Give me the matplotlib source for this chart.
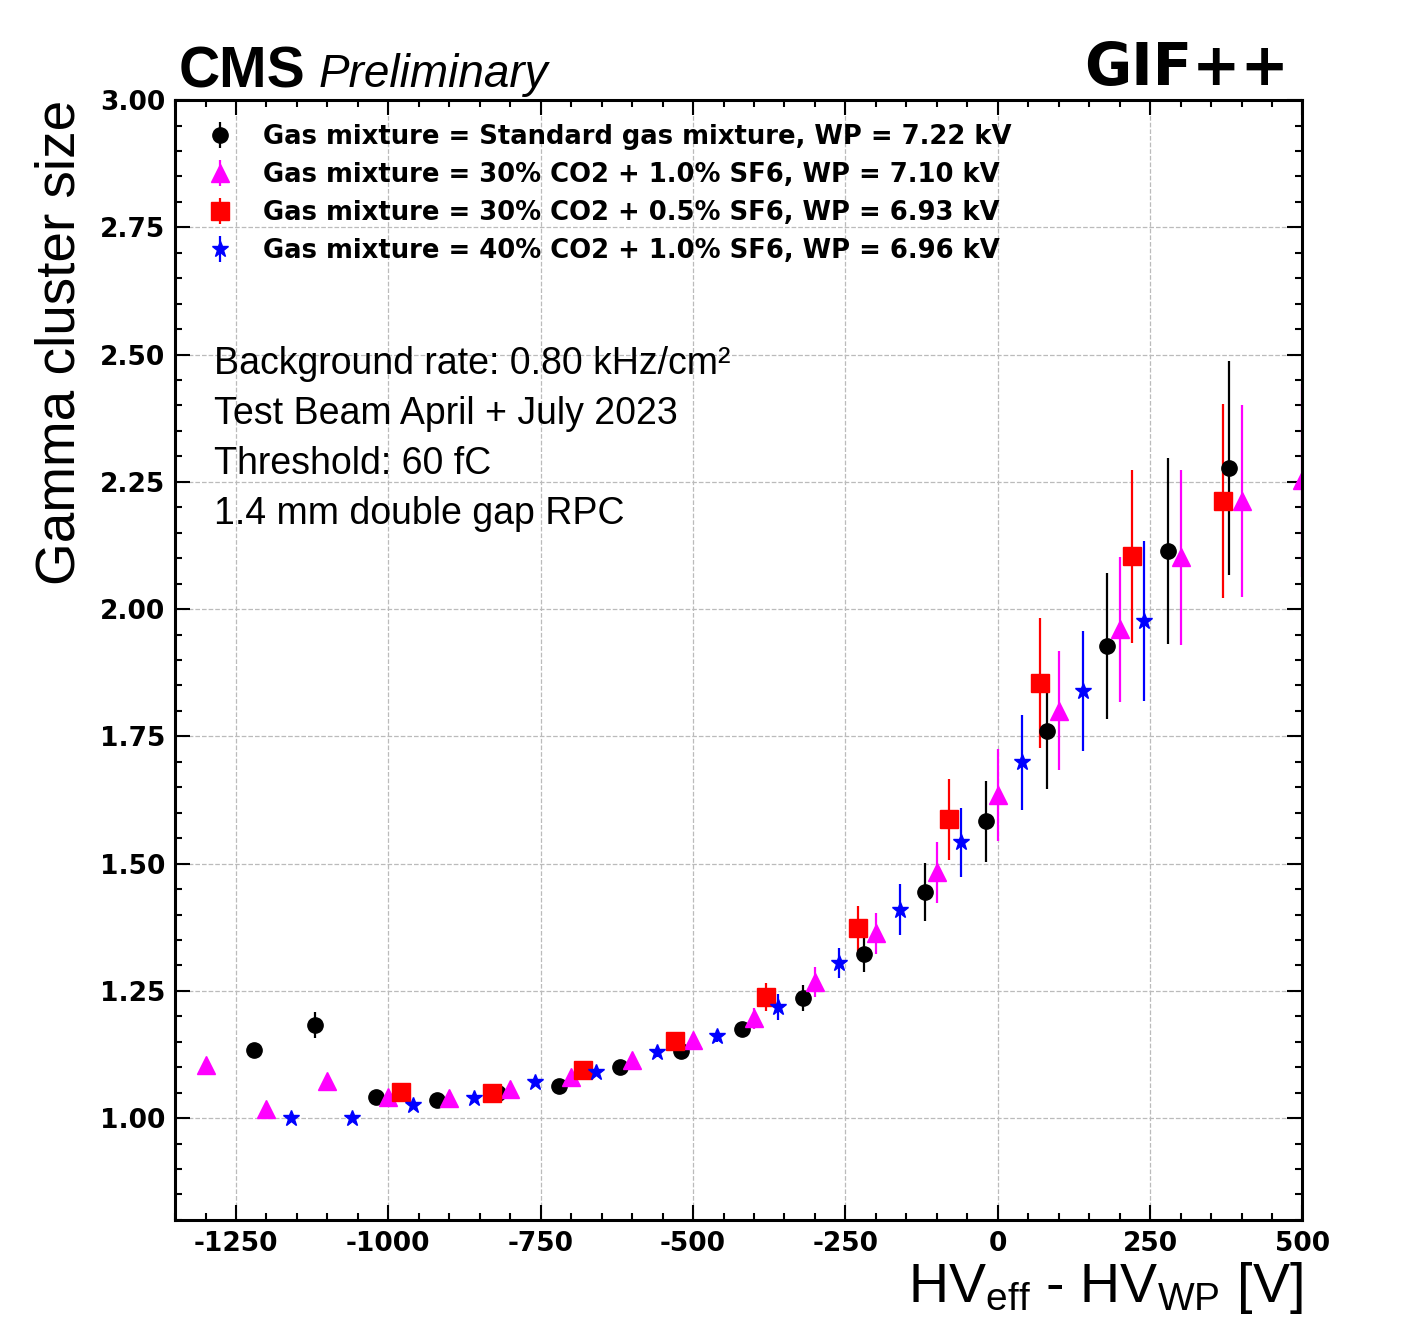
import numpy as np
import matplotlib
matplotlib.use("Agg")
import matplotlib.pyplot as plt
from matplotlib.ticker import MultipleLocator

plt.rcParams['mathtext.fontset'] = 'custom'
plt.rcParams['mathtext.rm'] = 'Liberation Sans'
plt.rcParams['mathtext.it'] = 'Liberation Sans:italic'
plt.rcParams['mathtext.bf'] = 'Liberation Sans:bold'
plt.rcParams['axes.unicode_minus'] = False

# --- data ---
# standard gas mixture, WP = 7.22 kV
std_x = [-1220, -1120, -1020, -920, -820, -720, -620, -520, -420, -320,
         -220, -120, -20, 80, 180, 280, 380]
std_y = [1.134, 1.183, 1.041, 1.035, 1.050, 1.063, 1.101, 1.131, 1.175, 1.236,
         1.322, 1.444, 1.583, 1.760, 1.928, 2.114, 2.277]
std_err = [0.010, 0.026, 0.005, 0.005, 0.005, 0.006, 0.008, 0.010, 0.012, 0.025,
           0.035, 0.057, 0.080, 0.113, 0.143, 0.183, 0.210]

# 30% CO2 + 1.0% SF6, WP = 7.10 kV
co2_30_sf6_10_x = [-1300, -1200, -1100, -1000, -900, -800, -700, -600, -500, -400,
                   -300, -200, -100, 0, 100, 200, 300, 400, 500]
co2_30_sf6_10_y = [1.104, 1.018, 1.073, 1.041, 1.040, 1.058, 1.080, 1.114, 1.153, 1.196,
                   1.267, 1.363, 1.483, 1.635, 1.800, 1.960, 2.102, 2.212, 2.253]
co2_30_sf6_10_err = [0.006, 0.005, 0.005, 0.005, 0.005, 0.006, 0.007, 0.009, 0.012, 0.020,
                     0.030, 0.040, 0.060, 0.090, 0.117, 0.143, 0.172, 0.188, 0.190]

# 30% CO2 + 0.5% SF6, WP = 6.93 kV
co2_30_sf6_05_x = [-980, -830, -680, -530, -380, -230, -80, 70, 220, 370]
co2_30_sf6_05_y = [1.051, 1.049, 1.094, 1.151, 1.238, 1.373, 1.587, 1.855, 2.104, 2.212]
co2_30_sf6_05_err = [0.006, 0.006, 0.010, 0.015, 0.027, 0.044, 0.080, 0.127, 0.170, 0.190]

# 40% CO2 + 1.0% SF6, WP = 6.96 kV
co2_40_sf6_10_x = [-1160, -1060, -960, -860, -760, -660, -560, -460, -360, -260,
                   -160, -60, 40, 140, 240]
co2_40_sf6_10_y = [1.000, 1.000, 1.026, 1.039, 1.071, 1.090, 1.130, 1.161, 1.218, 1.305,
                   1.409, 1.542, 1.699, 1.839, 1.976]
co2_40_sf6_10_err = [0.004, 0.004, 0.005, 0.005, 0.006, 0.007, 0.009, 0.012, 0.025, 0.030,
                     0.050, 0.068, 0.093, 0.118, 0.157]

labels = ['Gas mixture = Standard gas mixture, WP = 7.22 kV',
          'Gas mixture = 30% CO2 + 1.0% SF6, WP = 7.10 kV',
          'Gas mixture = 30% CO2 + 0.5% SF6, WP = 6.93 kV',
          'Gas mixture = 40% CO2 + 1.0% SF6, WP = 6.96 kV']

info_lines = ['Background rate: 0.80 kHz/cm\u00b2',
              'Test Beam April + July 2023',
              'Threshold: 60 fC',
              '1.4 mm double gap RPC']

fig = plt.figure(figsize=(14.21, 13.20), dpi=100)
ax = fig.add_axes([0.1232, 0.0758, 0.7934, 0.8484])

series = [
    (std_x, std_y, std_err, 'o', 'black', 11),
    (co2_30_sf6_10_x, co2_30_sf6_10_y, co2_30_sf6_10_err, '^', 'magenta', 12.5),
    (co2_30_sf6_05_x, co2_30_sf6_05_y, co2_30_sf6_05_err, 's', 'red', 12.5),
    (co2_40_sf6_10_x, co2_40_sf6_10_y, co2_40_sf6_10_err, '*', 'blue', 12),
]
for (x, y, e, m, c, ms), lbl in zip(series, labels):
    ax.errorbar(x, y, yerr=e, fmt=m, color=c, ms=ms, elinewidth=1.6,
                capsize=0, label=lbl)

ax.set_xlim(-1350, 500)
ax.set_ylim(0.8, 3.0)
ax.xaxis.set_major_locator(MultipleLocator(250))
ax.xaxis.set_minor_locator(MultipleLocator(50))
ax.yaxis.set_major_locator(MultipleLocator(0.25))
ax.yaxis.set_minor_locator(MultipleLocator(0.05))
ax.grid(True, which='major', linestyle='--', color='#bbbbbb', linewidth=0.9)
ax.set_axisbelow(True)

ax.tick_params(which='both', direction='in', top=True, right=True, width=1.5)
ax.tick_params(which='major', length=11, labelsize=19)
ax.tick_params(which='minor', length=5)
ax.tick_params(axis='x', pad=8)
ax.tick_params(axis='y', pad=7)
ax.set_yticks(np.arange(1.0, 3.01, 0.25))
ax.set_yticklabels(['%.2f' % v for v in np.arange(1.0, 3.01, 0.25)])
for t in ax.get_xticklabels() + ax.get_yticklabels():
    t.set_fontweight('bold')
for sp in ax.spines.values():
    sp.set_linewidth(2.2)

ax.set_ylabel('Gamma cluster size', loc='top', fontsize=39.5,
              family='Liberation Sans', labelpad=10)
ax.set_xlabel('HV$_{\\mathrm{eff}}$ - HV$_{\\mathrm{WP}}$ [V]', loc='right',
              fontsize=40, family='Liberation Sans', labelpad=2)

ax.legend(loc='upper left', bbox_to_anchor=(0, 0.999), frameon=False,
          prop={'weight': 'bold', 'size': 18.6, 'family': 'DejaVu Sans'},
          borderaxespad=0.5, handlelength=1.7, handletextpad=0.8,
          labelspacing=0.46)

for i, line in enumerate(info_lines):
    ax.text(0.0346, 0.7555 - i * 0.0446, line, transform=ax.transAxes,
            fontsize=27, family='Liberation Sans', va='baseline')

ax.text(0.003, 1.0116, 'CMS', transform=ax.transAxes, fontsize=41,
        fontweight='bold', family='Liberation Sans', va='baseline')
ax.text(0.1269, 1.0116, 'Preliminary', transform=ax.transAxes, fontsize=33,
        style='italic', family='Liberation Sans', va='baseline')
ax.text(0.9876, 1.0134, 'GIF++', transform=ax.transAxes, fontsize=41.5,
        fontweight='bold', family='DejaVu Sans', va='baseline', ha='right')

fig.savefig('out.png', dpi=100)
